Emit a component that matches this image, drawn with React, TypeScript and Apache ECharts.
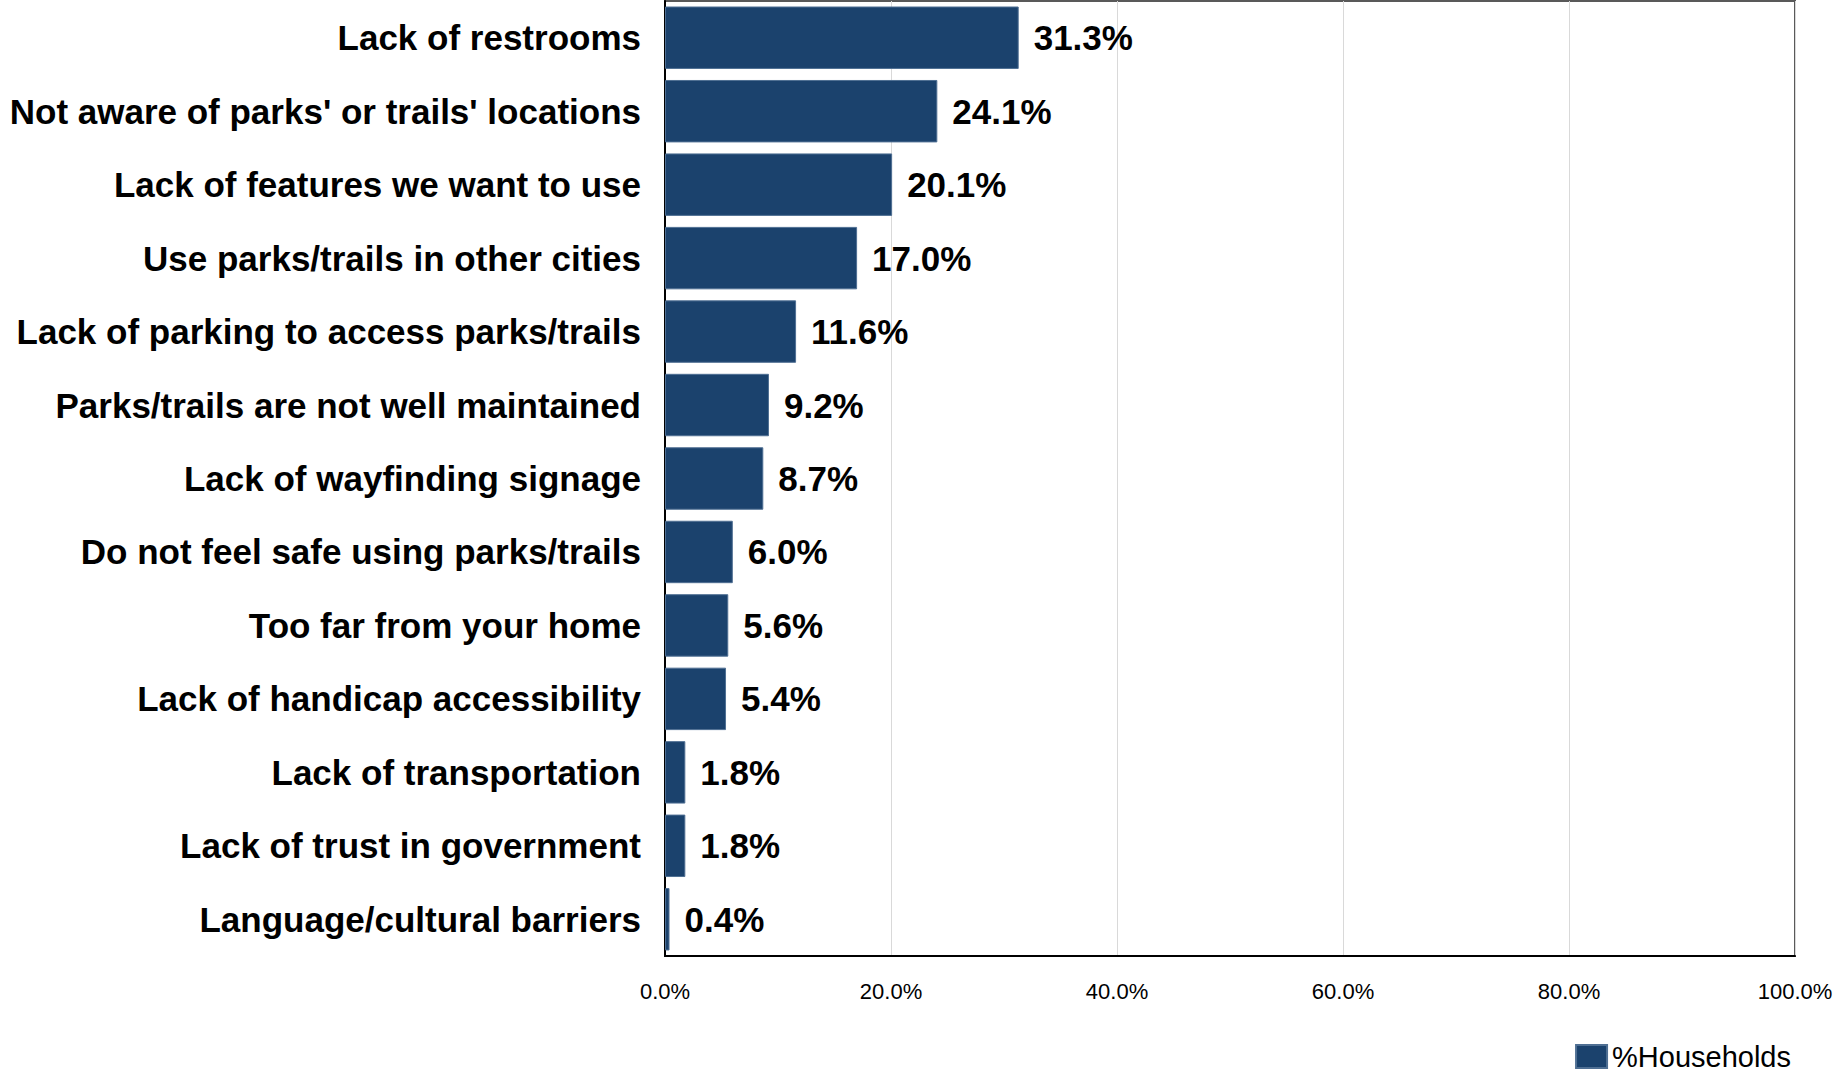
import React, { useEffect, useRef } from "react";
import * as echarts from "echarts";

const categories = [
  "Lack of restrooms",
  "Not aware of parks' or trails' locations",
  "Lack of features we want to use",
  "Use parks/trails in other cities",
  "Lack of parking to access parks/trails",
  "Parks/trails are not well maintained",
  "Lack of wayfinding signage",
  "Do not feel safe using parks/trails",
  "Too far from your home",
  "Lack of handicap accessibility",
  "Lack of transportation",
  "Lack of trust in government",
  "Language/cultural barriers",
];
const households = [31.3, 24.1, 20.1, 17.0, 11.6, 9.2, 8.7, 6.0, 5.6, 5.4, 1.8, 1.8, 0.4];
const seriesName = "%Households";
const xTicks = [0, 20, 40, 60, 80, 100];

const FONT = "'Liberation Sans', Arial, sans-serif";
const BAR = "#1b426d";

export default function App() {
  const ref = useRef<HTMLDivElement>(null);
  useEffect(() => {
    if (!ref.current) return;
    const chart = echarts.init(ref.current, null, { renderer: "svg" });
    chart.setOption({
      animation: false,
      textStyle: { fontFamily: FONT },
      grid: {
        left: 665,
        right: 44,
        top: 1,
        bottom: 117,
        show: true,
        borderColor: "#595959",
        borderWidth: 2,
      },
      legend: {
        data: [seriesName],
        right: 48,
        top: 1042,
        padding: 0,
        itemWidth: 31,
        itemHeight: 23,
        icon: "rect",
        textStyle: { fontSize: 29, lineHeight: 29, color: "#000", fontFamily: FONT },
      },
      xAxis: {
        type: "value",
        min: xTicks[0],
        max: xTicks[xTicks.length - 1],
        interval: 20,
        axisLine: { show: true, lineStyle: { color: "#000", width: 2 } },
        axisTick: { show: false },
        splitLine: { show: true, lineStyle: { color: "#d9d9d9", width: 1 } },
        axisLabel: {
          margin: 24,
          fontSize: 22,
          color: "#000",
          fontFamily: FONT,
          formatter: (v: number) => `${v.toFixed(1)}%`,
        },
      },
      yAxis: {
        type: "category",
        data: categories,
        inverse: true,
        axisLine: { show: true, lineStyle: { color: "#000", width: 2 } },
        axisTick: { show: false },
        axisLabel: {
          margin: 24,
          fontSize: 35,
          fontWeight: "bold",
          color: "#000",
          fontFamily: FONT,
        },
      },
      series: [
        {
          name: seriesName,
          type: "bar",
          data: households,
          barCategoryGap: "15%",
          itemStyle: { color: BAR, borderColor: "#4f6f93", borderWidth: 1 },
          label: {
            show: true,
            position: "right",
            distance: 15,
            fontSize: 35,
            fontWeight: "bold",
            color: "#000",
            fontFamily: FONT,
            formatter: (p: any) => `${Number(p.value).toFixed(1)}%`,
          },
        },
      ],
    });
    return () => chart.dispose();
  }, []);
  return (
    <div
      ref={ref}
      style={{ position: "fixed", left: 0, top: 0, width: "1839px", height: "1073px", background: "#fff" }}
    />
  );
}
